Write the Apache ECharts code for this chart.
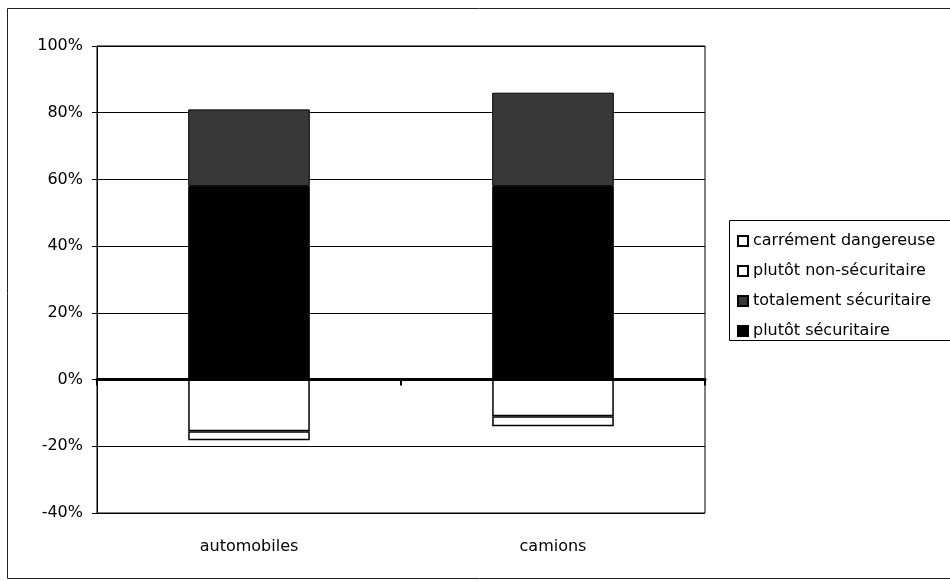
<!DOCTYPE html>
<html>
<head>
<meta charset="utf-8">
<script src="https://cdn.jsdelivr.net/npm/echarts@6/dist/echarts.min.js"></script>
<style>
  html, body { margin: 0; padding: 0; background: #fff; }
  #chart { width: 950px; height: 581px; }
</style>
</head>
<body>
<div id="chart"></div>
<script>
// values in % of respondents, negatives drawn below zero
const categories = ['automobiles', 'camions']
const plutotSecuritaire = [58, 58]
const totalementSecuritaire = [23, 28]
const plutotNonSecuritaire = [-15.5, -11]
const carrementDangereuse = [-2.7, -3]
const legendOrder = ['carrément dangereuse', 'plutôt non-sécuritaire', 'totalement sécuritaire', 'plutôt sécuritaire']

const font = 'DejaVu Sans'
const chart = echarts.init(document.getElementById('chart'), null, { renderer: 'canvas' })

const barBase = {
  type: 'bar',
  stack: 'total',
  barWidth: '40%',
  xAxisIndex: 0,
  itemStyle: { borderColor: '#000', borderWidth: 1 }
}

chart.setOption({
  animation: false,
  backgroundColor: '#fff',
  textStyle: { fontFamily: font, color: '#000' },
  graphic: [
    // outer chart frame (runs off the right edge like the scan)
    { type: 'rect', shape: { x: 7.5, y: 8.5, width: 1000, height: 570 }, style: { fill: null, stroke: '#222', lineWidth: 1 }, silent: true },
    // legend frame
    { type: 'rect', shape: { x: 729.5, y: 220.5, width: 300, height: 120 }, style: { fill: null, stroke: '#000', lineWidth: 1 }, silent: true }
  ],
  grid: {
    left: 97, right: 245, top: 46, bottom: 68,
    show: true, borderColor: '#000', borderWidth: 1, backgroundColor: 'transparent'
  },
  legend: {
    data: legendOrder,
    orient: 'vertical',
    left: 732, top: 228,
    icon: 'rect',
    itemWidth: 10, itemHeight: 10, itemGap: 14,
    textStyle: { fontSize: 16, fontFamily: font, color: '#000' },
    selectedMode: false
  },
  xAxis: [
    {
      type: 'category',
      data: categories,
      axisLine: { onZero: true, lineStyle: { color: '#000', width: 3 } },
      axisTick: { show: true, length: 6, lineStyle: { color: '#000', width: 2 } },
      axisLabel: { show: false }
    },
    {
      type: 'category',
      data: categories,
      position: 'bottom',
      axisLine: { show: false },
      axisTick: { show: false },
      axisLabel: { margin: 26, fontSize: 16, fontFamily: font, color: '#000' }
    }
  ],
  yAxis: {
    type: 'value',
    min: -40, max: 100, interval: 20,
    axisLine: { show: true, lineStyle: { color: '#000', width: 1 } },
    axisTick: { show: true, length: 5, lineStyle: { color: '#000' } },
    axisLabel: { formatter: '{value}%', margin: 14, fontSize: 16, fontFamily: font, color: '#000' },
    splitLine: { show: true, lineStyle: { color: '#000', width: 1 } }
  },
  series: [
    Object.assign({}, barBase, { name: 'plutôt sécuritaire', data: plutotSecuritaire, itemStyle: { color: '#000', borderColor: '#000', borderWidth: 1 } }),
    Object.assign({}, barBase, { name: 'totalement sécuritaire', data: totalementSecuritaire, itemStyle: { color: '#383838', borderColor: '#000', borderWidth: 1 } }),
    Object.assign({}, barBase, { name: 'plutôt non-sécuritaire', data: plutotNonSecuritaire, itemStyle: { color: '#fff', borderColor: '#000', borderWidth: 1.5 } }),
    Object.assign({}, barBase, { name: 'carrément dangereuse', data: carrementDangereuse, itemStyle: { color: '#fff', borderColor: '#000', borderWidth: 1.5 } })
  ]
})
</script>
</body>
</html>
